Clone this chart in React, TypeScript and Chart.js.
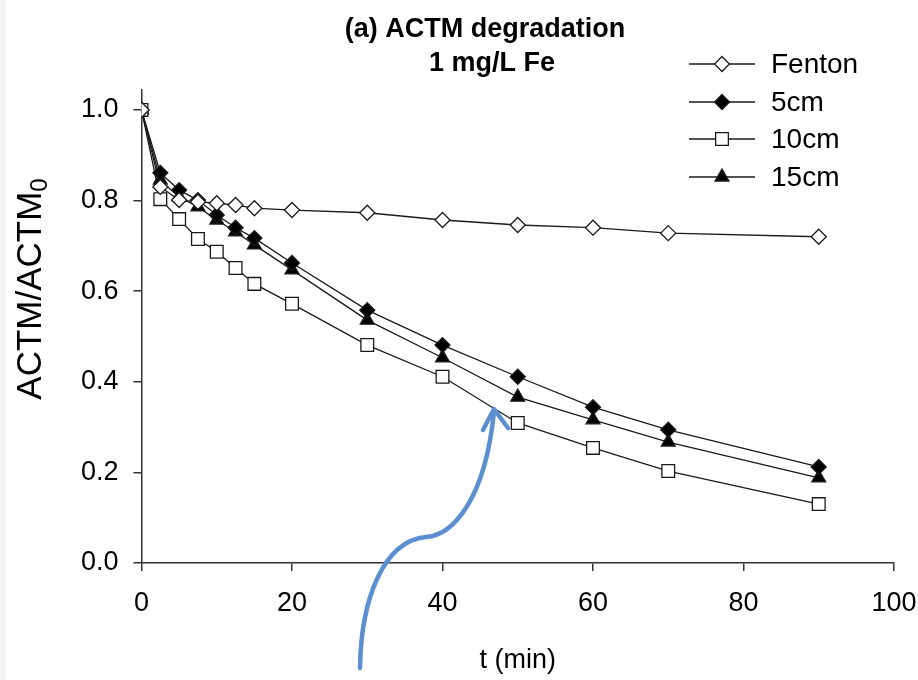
import React, { useEffect, useRef } from 'react';
import { Chart, registerables } from 'chart.js';

Chart.register(...registerables);

const times = [0, 2.5, 5, 7.5, 10, 12.5, 15, 20, 30, 40, 50, 60, 70, 90];
const fenton = [1.0, 0.83, 0.801, 0.797, 0.794, 0.79, 0.783, 0.779, 0.773, 0.757, 0.746, 0.74, 0.728, 0.72];
const cm5 = [1.0, 0.861, 0.823, 0.801, 0.768, 0.74, 0.717, 0.662, 0.558, 0.481, 0.411, 0.344, 0.294, 0.212];
const cm10 = [1.0, 0.803, 0.759, 0.715, 0.687, 0.651, 0.616, 0.572, 0.481, 0.411, 0.309, 0.254, 0.203, 0.13];
const cm15 = [1.0, 0.845, 0.808, 0.786, 0.757, 0.731, 0.702, 0.647, 0.536, 0.453, 0.366, 0.316, 0.267, 0.188];
const seriesNames = ['Fenton', '5cm', '10cm', '15cm'];
const xTicks = [0, 20, 40, 60, 80, 100];
const yTicks = [0, 0.2, 0.4, 0.6, 0.8, 1.0];
const titleLines = ['(a) ACTM degradation', '1 mg/L Fe'];
const xTitle = 't (min)';
const yTitleMain = 'ACTM/ACTM';
const yTitleSub = '0';

const FONT = "'Liberation Sans', Arial, sans-serif";
const INK = '#1a1a1a';

type Sty = { style: string; radius: number; fill: string };
const styles: Sty[] = [
  { style: 'rectRot', radius: 7.5, fill: '#ffffff' },
  { style: 'rectRot', radius: 7.5, fill: '#000000' },
  { style: 'rect', radius: 9, fill: '#ffffff' },
  { style: 'triangle', radius: 8, fill: '#000000' },
];

function marker(ctx: CanvasRenderingContext2D, s: Sty, x: number, y: number) {
  const r = s.radius;
  ctx.beginPath();
  if (s.style === 'rectRot') {
    ctx.moveTo(x, y - r);
    ctx.lineTo(x + r, y);
    ctx.lineTo(x, y + r);
    ctx.lineTo(x - r, y);
    ctx.closePath();
  } else if (s.style === 'rect') {
    const h = r * Math.SQRT1_2;
    ctx.rect(x - h, y - h, 2 * h, 2 * h);
  } else {
    const h = (r * 3) / 2;
    const side = r * Math.sqrt(3);
    ctx.moveTo(x - side / 2, y + h / 3);
    ctx.lineTo(x + side / 2, y + h / 3);
    ctx.lineTo(x, y - (2 * h) / 3);
    ctx.closePath();
  }
  ctx.fillStyle = s.fill;
  ctx.fill();
  ctx.lineWidth = 1.3;
  ctx.strokeStyle = INK;
  ctx.stroke();
}

const decorPlugin = {
  id: 'decor',
  beforeDraw(chart: any) {
    const ctx = chart.ctx as CanvasRenderingContext2D;
    ctx.save();
    ctx.fillStyle = '#ffffff';
    ctx.fillRect(0, 0, chart.width, chart.height);
    ctx.fillStyle = '#f4f4f4';
    ctx.fillRect(0, 0, 6, chart.height);
    ctx.restore();
  },
  afterDraw(chart: any) {
    const ctx = chart.ctx as CanvasRenderingContext2D;
    const area = chart.chartArea;
    ctx.save();
    // Title
    ctx.fillStyle = '#000';
    ctx.textAlign = 'center';
    ctx.textBaseline = 'middle';
    ctx.font = `bold 27px ${FONT}`;
    ctx.fillText(titleLines[0], 485, 30);
    ctx.fillText(titleLines[1], 492, 64);

    // Legend
    const rows = [64, 102, 139, 177];
    seriesNames.forEach((name, i) => {
      const y = rows[i];
      ctx.beginPath();
      ctx.moveTo(689, y);
      ctx.lineTo(755, y);
      ctx.lineWidth = 1.3;
      ctx.strokeStyle = INK;
      ctx.stroke();
      marker(ctx, styles[i], 722, y);
      ctx.fillStyle = '#000';
      ctx.textAlign = 'left';
      ctx.textBaseline = 'middle';
      ctx.font = `28px ${FONT}`;
      ctx.fillText(name, 771, y + 1);
    });

    // X title
    ctx.textAlign = 'center';
    ctx.textBaseline = 'middle';
    ctx.font = `27px ${FONT}`;
    ctx.fillText(xTitle, (area.left + area.right) / 2, 661);

    // Y title (rotated, with subscript)
    ctx.save();
    ctx.translate(41, 289);
    ctx.rotate(-Math.PI / 2);
    ctx.font = `35px ${FONT}`;
    const wMain = ctx.measureText(yTitleMain).width;
    ctx.font = `24px ${FONT}`;
    const wSub = ctx.measureText(yTitleSub).width;
    const total = wMain + wSub;
    ctx.textAlign = 'left';
    ctx.textBaseline = 'alphabetic';
    ctx.font = `35px ${FONT}`;
    ctx.fillText(yTitleMain, -total / 2, 0);
    ctx.font = `24px ${FONT}`;
    ctx.fillText(yTitleSub, -total / 2 + wMain, 6);
    ctx.restore();

    // Blue arrow annotation
    ctx.strokeStyle = '#5b8fcf';
    ctx.lineWidth = 4.5;
    ctx.lineCap = 'round';
    ctx.lineJoin = 'round';
    ctx.beginPath();
    ctx.moveTo(360, 668);
    ctx.bezierCurveTo(361, 600, 383, 541, 426, 537);
    ctx.bezierCurveTo(453, 535, 485, 500, 494, 412);
    ctx.stroke();
    ctx.beginPath();
    ctx.moveTo(483, 430);
    ctx.lineTo(494, 409);
    ctx.lineTo(508, 428);
    ctx.stroke();
    ctx.restore();
  },
};

export default function App() {
  const ref = useRef<HTMLCanvasElement | null>(null);
  useEffect(() => {
    if (!ref.current) return;
    const mk = (vals: number[]) => times.map((t, i) => ({ x: t, y: vals[i] }));
    const all = [fenton, cm5, cm10, cm15];
    const chart = new Chart(ref.current, {
      type: 'line',
      data: {
        datasets: all.map((vals, i) => ({
          label: seriesNames[i],
          data: mk(vals),
          borderColor: INK,
          borderWidth: 1.3,
          pointStyle: styles[i].style as any,
          pointRadius: styles[i].radius,
          pointBackgroundColor: styles[i].fill,
          pointBorderColor: INK,
          pointBorderWidth: 1.3,
          tension: 0,
          fill: false,
        })),
      },
      options: {
        animation: false,
        responsive: false,
        devicePixelRatio: 1,
        events: [],
        layout: { padding: { top: 89.5, right: 24, left: 0, bottom: 0 } },
        plugins: { legend: { display: false }, title: { display: false }, tooltip: { enabled: false } },
        scales: {
          x: {
            type: 'linear',
            min: 0,
            max: 100,
            afterFit: (s: any) => { s.height = 117; s.paddingLeft = 0; s.paddingRight = 0; },
            afterBuildTicks: (s: any) => { s.ticks = xTicks.map((v) => ({ value: v })); },
            border: { display: true, color: '#333', width: 1.5 },
            grid: { display: true, drawOnChartArea: false, drawTicks: true, tickLength: 8, color: '#333', lineWidth: 1.5 },
            ticks: { color: '#000', font: { family: FONT, size: 27 }, padding: 16, maxRotation: 0, autoSkip: false },
          },
          y: {
            type: 'linear',
            min: 0,
            max: 1.045,
            afterFit: (s: any) => { s.width = 141.5; s.paddingTop = 0; s.paddingBottom = 0; },
            afterBuildTicks: (s: any) => { s.ticks = yTicks.map((v) => ({ value: v })); },
            border: { display: true, color: '#333', width: 1.5 },
            grid: { display: true, drawOnChartArea: false, drawTicks: true, tickLength: 8, color: '#333', lineWidth: 1.5 },
            ticks: {
              color: '#000',
              font: { family: FONT, size: 27 },
              padding: 15,
              callback: (v: any) => Number(v).toFixed(1),
            },
          },
        },
      },
      plugins: [decorPlugin],
    });
    return () => chart.destroy();
  }, []);
  return (
    <div style={{ position: 'fixed', left: 0, top: 0, width: 918, height: 680, background: '#fff' }}>
      <canvas ref={ref} width={918} height={680} style={{ display: 'block', width: 918, height: 680 }} />
    </div>
  );
}
